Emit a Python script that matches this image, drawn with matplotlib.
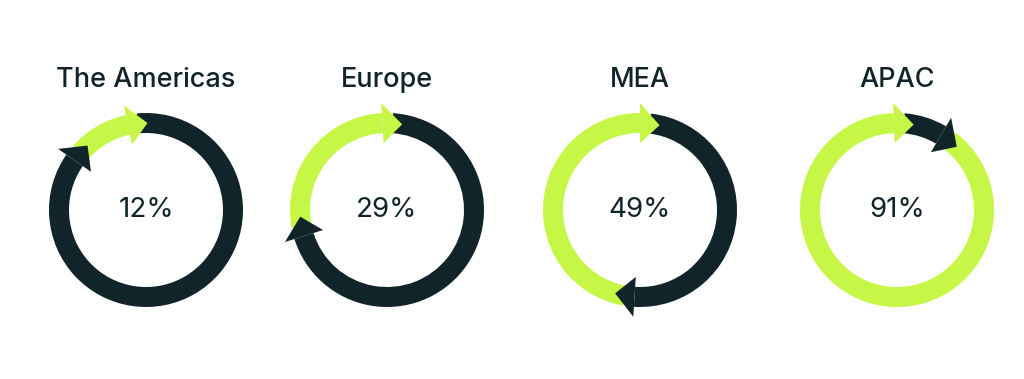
import numpy as np
import matplotlib
matplotlib.use("Agg")
import matplotlib.pyplot as plt
from matplotlib.patches import Wedge, Polygon

# Data
regions = ["The Americas", "Europe", "MEA", "APAC"]
shares = [12, 29, 49, 91]          # percent, green part of each ring
labels = ["12%", "29%", "49%", "91%"]

# Layout (pixel coordinates, y measured from the top)
centers_x = [146, 387, 640, 897]
center_y = 210
title_y = 80
tip_angles = [89, 80, 77, 79]      # where the green arrow tip sits (deg)

R_OUT = 97
WIDTH = 20
HEAD_EXTRA = 10                    # arrowhead sticks out past the band
HEAD_LEN = 13                      # arrowhead length along the arc (deg)

GREEN = "#C6F646"
DARK = "#10242A"

W, H = 1024, 379


def arrow_head(ax, cx, cy, tip_deg, color):
    """Triangle pointing clockwise with its tip at tip_deg."""
    r_in = R_OUT - WIDTH
    r_mid = R_OUT - WIDTH / 2
    base = np.radians(tip_deg + HEAD_LEN)
    tip = np.radians(tip_deg)
    pts = [
        (cx + (R_OUT + HEAD_EXTRA) * np.cos(base), cy + (R_OUT + HEAD_EXTRA) * np.sin(base)),
        (cx + r_mid * np.cos(tip), cy + r_mid * np.sin(tip)),
        (cx + (r_in - HEAD_EXTRA) * np.cos(base), cy + (r_in - HEAD_EXTRA) * np.sin(base)),
    ]
    ax.add_patch(Polygon(pts, closed=True, facecolor=color, edgecolor="none", zorder=3))


def draw_ring(ax, cx, cy, share, g0):
    """Green arc for the share, dark arc for the rest, both ending in arrows."""
    d0 = g0 + 360 * share / 100.0   # tip of the dark arrow
    # bodies, each running a little under the other's arrowhead
    ax.add_patch(Wedge((cx, cy), R_OUT, g0 + HEAD_LEN, d0 + HEAD_LEN / 2,
                       width=WIDTH, facecolor=GREEN, edgecolor="none", zorder=2))
    ax.add_patch(Wedge((cx, cy), R_OUT, d0 + HEAD_LEN, g0 + 360 + HEAD_LEN / 2,
                       width=WIDTH, facecolor=DARK, edgecolor="none", zorder=2))
    arrow_head(ax, cx, cy, g0, GREEN)
    arrow_head(ax, cx, cy, d0, DARK)


def main():
    fig = plt.figure(figsize=(W / 100, H / 100), dpi=100)
    ax = fig.add_axes([0, 0, 1, 1])
    ax.set_xlim(0, W)
    ax.set_ylim(0, H)
    ax.set_aspect("equal")
    ax.axis("off")

    cy = H - center_y
    for name, share, lab, cx, g0 in zip(regions, shares, labels, centers_x, tip_angles):
        draw_ring(ax, cx, cy, share, g0)
        ax.text(cx, cy, lab, ha="center", va="center", fontsize=20,
                family="Inter", color=DARK)
        ax.text(cx, H - title_y, name, ha="center", va="center", fontsize=19.5,
                family="Inter", fontweight="medium", color=DARK)

    fig.savefig("out.png", dpi=100, facecolor="white")


if __name__ == "__main__":
    main()
